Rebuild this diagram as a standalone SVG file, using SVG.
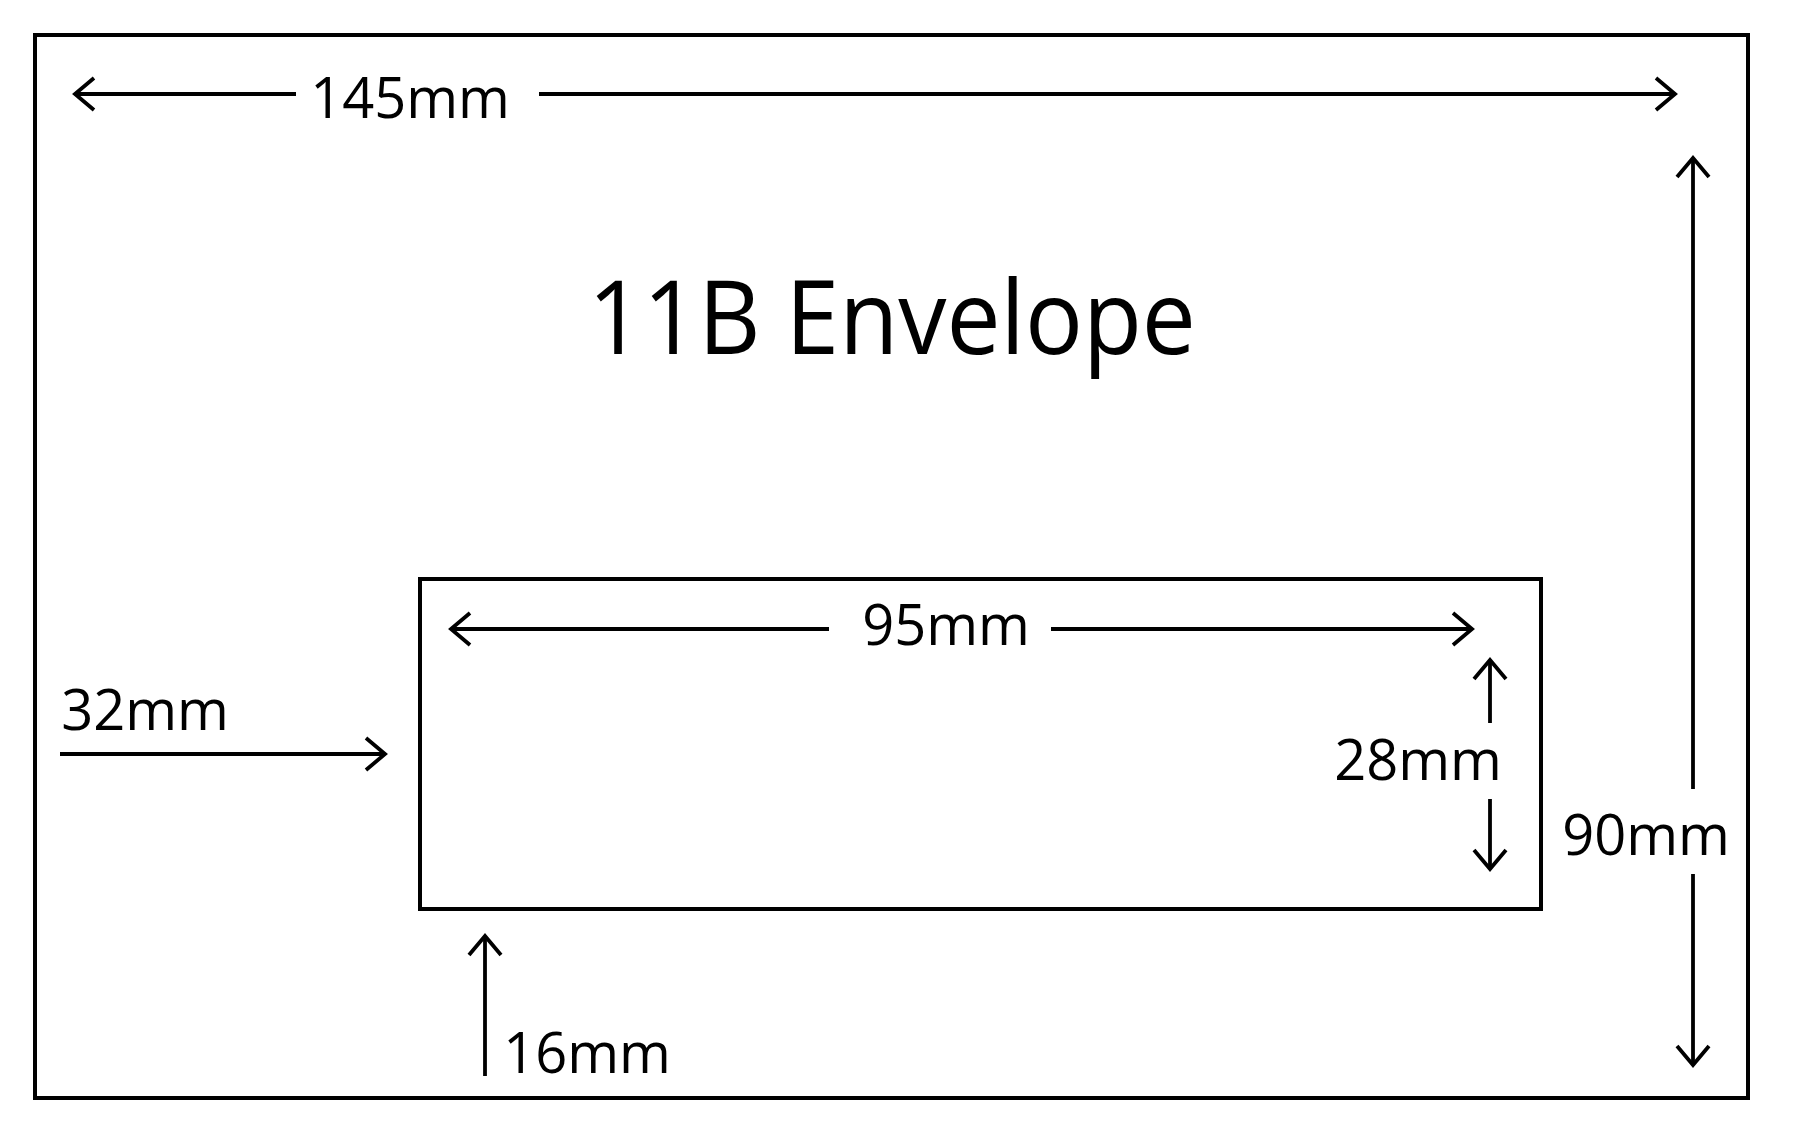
<svg xmlns="http://www.w3.org/2000/svg" width="1798" height="1147" viewBox="0 0 1798 1147">
<style>
.box{fill:none;stroke:#000;stroke-width:4}
.dim{fill:none;stroke:#000;stroke-width:3.8;marker-end:url(#ah)}
.lbl{font-family:"Open Sans","Noto Sans","Liberation Sans",sans-serif;font-size:56px;fill:#000;text-anchor:middle}
.title{font-family:"Open Sans","Noto Sans","Liberation Sans",sans-serif;font-size:102px;fill:#000;text-anchor:middle}
</style>
<defs>
<marker id="ah" markerUnits="userSpaceOnUse" markerWidth="60" markerHeight="60" refX="0" refY="0" viewBox="-30 -30 60 60" orient="auto" overflow="visible">
<path d="M-19,-16 L0,0 L-19,16" fill="none" stroke="#000" stroke-width="3.8" stroke-linejoin="miter"/>
</marker>
</defs>
<rect width="1798" height="1147" fill="#fff"/>
<g id="envelope">
<rect class="box" x="35" y="35" width="1713" height="1063"/>
</g>
<g id="window">
<rect class="box" x="420" y="579" width="1121" height="330"/>
</g>
<g id="title">
<text class="title" x="892" y="354" textLength="608" lengthAdjust="spacingAndGlyphs">11B Envelope</text>
</g>
<g id="labels">
<text class="lbl" x="410" y="118">145mm</text>
<text class="lbl" x="946" y="645">95mm</text>
<text class="lbl" x="1418" y="780">28mm</text>
<text class="lbl" x="1646" y="855">90mm</text>
<text class="lbl" x="145" y="730">32mm</text>
<text class="lbl" x="587" y="1073">16mm</text>
</g>
<g id="connectors">
<line class="dim" x1="296" y1="94" x2="75" y2="94"/>
<line class="dim" x1="539" y1="94" x2="1675" y2="94"/>
<line class="dim" x1="1693" y1="789" x2="1693" y2="158"/>
<line class="dim" x1="1693" y1="874" x2="1693" y2="1065"/>
<line class="dim" x1="829" y1="629" x2="451" y2="629"/>
<line class="dim" x1="1051" y1="629" x2="1472" y2="629"/>
<line class="dim" x1="1490" y1="723" x2="1490" y2="660"/>
<line class="dim" x1="1490" y1="799" x2="1490" y2="869"/>
<line class="dim" x1="60" y1="754" x2="385" y2="754"/>
<line class="dim" x1="485" y1="1076" x2="485" y2="936"/>
</g>
</svg>
